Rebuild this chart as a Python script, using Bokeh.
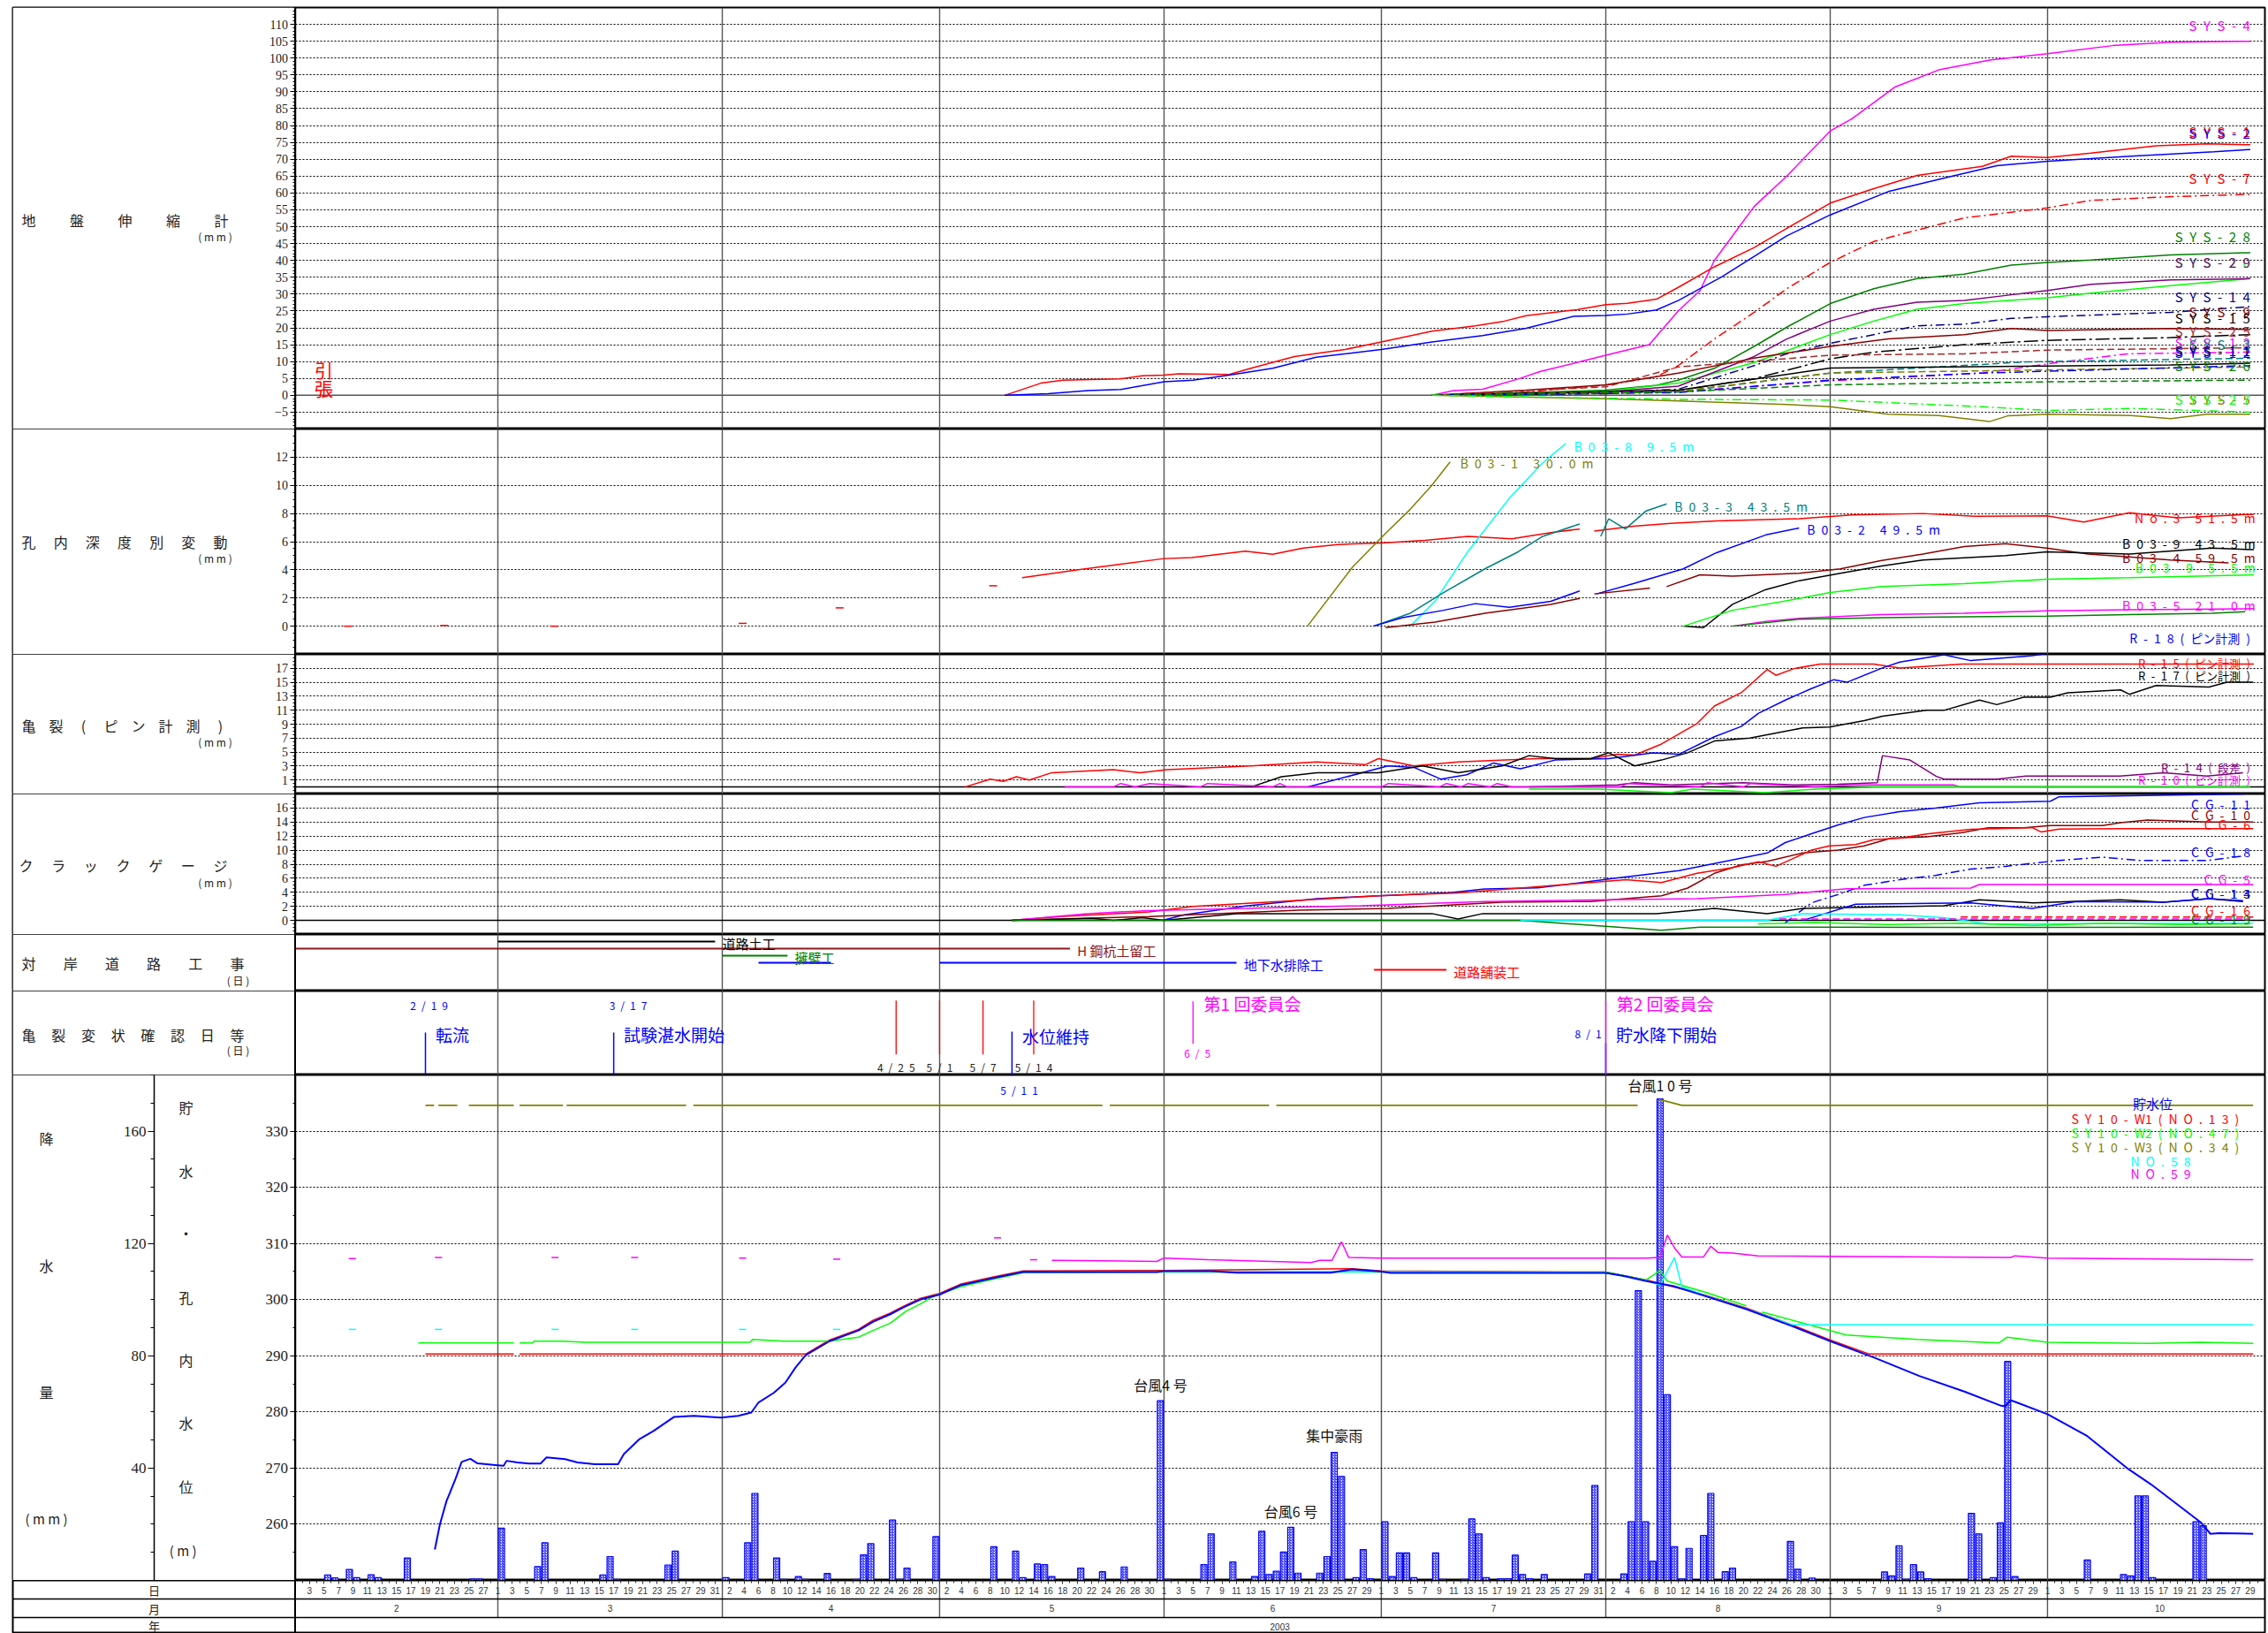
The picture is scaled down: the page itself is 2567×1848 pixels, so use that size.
import pandas as pd
from bokeh.plotting import figure
from bokeh.layouts import column
from bokeh.models import Range1d, LinearAxis, FixedTicker, Grid, Span
from bokeh.core.properties import value
from bokeh.embed import file_html
from bokeh.resources import INLINE

nan = float("nan")
T0 = pd.Timestamp("2003-02-01")


def day(md):
    """'MM-DD' in 2003 -> days elapsed since 2003-02-01."""
    return float((pd.Timestamp("2003-" + md) - T0).days)


# ---------------------------------------------------------------- time axis
MONTH_FIRST = ["02-01", "03-01", "04-01", "05-01", "06-01", "07-01",
               "08-01", "09-01", "10-01", "11-01"]
MONTH_NAME = ["2", "3", "4", "5", "6", "7", "8", "9", "10"]
YEAR_NAME = "2003"

# ------------------------------------------------ 地盤伸縮計 (mm), days since 2/1
sys4_day = [157, 160, 164, 169, 172, 177, 181, 187, 189, 191, 194, 196, 201.5, 206, 212, 215, 221, 227, 234, 242, 251, 259, 270]
sys4_mm = [0, 1.4, 1.8, 4.9, 7.1, 9.7, 11.9, 15, 20, 25, 31, 40, 56, 65, 78.4, 82, 91.5, 96.5, 99.4, 101.3, 103.7, 104.7, 105]
sys1_day = [98, 103, 106, 114, 117, 120, 122, 129, 132, 138, 145, 150, 157, 163, 167, 170, 177, 181, 184, 188, 191, 196, 201.5, 206, 212, 218, 224, 233, 237, 242, 248, 257, 264, 270]
sys1_mm = [0, 3.6, 4.5, 4.9, 5.8, 6, 6.4, 6.2, 8, 11.5, 13.6, 15.8, 19, 20.6, 22, 23.6, 25.4, 26.9, 27.3, 28.5, 32, 38.1, 43.8, 49.5, 57, 61.3, 65.2, 67.9, 70.9, 70.5, 71.8, 74, 74.6, 74.3]
sys2_day = [98, 104, 109.5, 114, 120, 124, 129, 135, 141, 150, 157, 164, 170, 176.5, 181, 184, 188, 191, 197, 201.5, 206, 212, 220, 228.5, 235, 242, 253.5, 265, 270]
sys2_mm = [0, 0.5, 1.4, 1.7, 4, 4.5, 6, 8, 11.3, 13.6, 15.8, 17.7, 19.9, 23.4, 23.7, 24.1, 25.3, 28.1, 35.1, 41.2, 47.3, 53.5, 60.4, 64.8, 68.1, 69.4, 70.9, 72.2, 72.9]
sys7_day = [157, 170, 181, 188, 191, 196, 201.5, 206, 212, 218, 224, 230.5, 237, 242, 248, 259, 270]
sys7_mm = [0, 1, 3, 5.5, 8.8, 16.7, 24.6, 31.6, 39.4, 45.6, 49, 52.6, 54.3, 55.6, 57.8, 58.9, 59.6]
sys28_day = [157, 181, 188, 191, 196, 201.5, 206, 212, 218, 224, 230.5, 237, 242, 248, 259, 270]
sys28_mm = [0, 1.5, 3, 4.5, 8, 14.5, 20.2, 27.2, 31.6, 34.6, 35.9, 38.6, 39.4, 40.1, 41.6, 42.3]
sys20_day = [157, 181, 191, 201.5, 206, 212, 218, 224, 230.5, 242, 248, 259, 270]
sys20_mm = [0, 1.2, 3.6, 9.7, 13.2, 18, 22, 25.5, 27.2, 28.9, 30.3, 32.5, 34.6]
sys29_day = [157, 181, 191, 201.5, 206, 212, 218, 224, 230.5, 237, 242, 248, 259, 270]
sys29_mm = [0, 1, 2.7, 11.5, 16.7, 22, 25.5, 27.6, 28.1, 29.8, 31.1, 32.9, 34.2, 34.6]
sys14_day = [157, 181, 191, 201.5, 206, 212, 218, 224, 230.5, 237, 242, 259, 270]
sys14_mm = [0, 0.8, 1.8, 8.8, 12.3, 15.4, 18, 20.6, 21.1, 22.8, 23.3, 24.6, 26.3]
sys9_day = [157, 170, 181, 191, 201.5, 212, 220, 230.5, 237, 242, 259, 270]
sys9_mm = [0, 1.5, 3.1, 6.6, 11, 14.5, 16.7, 18, 19.8, 19.2, 19.8, 19.5]
sys15_day = [157, 181, 191, 201.5, 212, 218, 230.5, 242, 259, 270]
sys15_mm = [0, 0.5, 1.4, 4.9, 10.8, 12.8, 15, 16.3, 17.1, 18]
sys25_day = [157, 181, 191, 201.5, 212, 230.5, 242, 270]
sys25_mm = [0, 2.5, 8.4, 10.1, 11.9, 12.3, 13.4, 14.1]
sys13_day = [157, 191, 212, 233, 242, 253, 270]
sys13_mm = [0, 1, 4.3, 6.6, 9.3, 12.3, 12.8]
sys3_day = [157, 191, 212, 239, 270]
sys3_mm = [0, 1, 6.6, 9.9, 11]
sys11_day = [157, 191, 212, 259, 270]
sys11_mm = [0, 1.5, 8.1, 9, 9.5]
sys6_day = [157, 191, 212, 270]
sys6_mm = [0, 1.2, 6.6, 8.4]
sys12_day = [157, 191, 212, 233, 270]
sys12_mm = [0, 0.8, 4.5, 6.6, 8.8]
sys26_day = [157, 191, 212, 242, 270]
sys26_mm = [0, 1, 3.1, 4, 4.5]
sys5_day = [157, 181, 191, 206, 212, 220, 227, 234, 236.5, 242, 253.5, 259, 264, 270]
sys5_mm = [0, -1, -1.7, -2.7, -3.4, -5.6, -6, -7.8, -6.1, -5.6, -6, -6.9, -5.6, -5.6]
sys27_day = [157, 191, 212, 233, 242, 253.5, 270]
sys27_mm = [0, -1.2, -1.4, -3.4, -4.5, -3.9, -5]

# ------------------------------------------- 孔内深度別変動 (mm), days since 2/1
no3_day = [100.4, 108.4, 114, 120, 123.8, 131.2, 135, 139.2, 144, 150, 156, 162, 168, 173.4, 177.4, nan, 179.4, 184.8, 190, 196.3, 207.7, 215, 224.8, 232, 241.9, 247, 253.3, 260, 270.5]
no3_mm = [3.45, 4.03, 4.4, 4.8, 4.87, 5.33, 5.1, 5.54, 5.8, 5.9, 6.1, 6.38, 6.2, 6.65, 6.9, nan, 6.75, 7.1, 7.3, 7.47, 7.63, 7.9, 8.0, 7.8, 7.84, 7.4, 8.05, 7.7, 7.95]
no3_mark_day = [7.3, 20.6, 35.8, 61.8, 75.2, 96.4]
no3_mark_mm = [0, 0.05, 0, 0.2, 1.3, 2.87]
b031_day = [139.8, 146, 150.6, 154, 156.9, 159.5]
b031_mm = [0, 4.18, 6.6, 8.3, 9.95, 11.66]
b038_day = [154, 157.4, 162, 167.7, 172.3, 175.5]
b038_mm = [0, 1.76, 5.33, 9.1, 11.6, 12.98]
b033_day = [148.9, 154, 158.6, 164.3, 168.9, 172.3, 177.4, nan, 180.3, 181.4, 183.7, 186.5, 189.4]
b033_mm = [0, 0.92, 2.39, 4.07, 5.28, 6.38, 7.26, nan, 6.38, 7.63, 6.9, 8.16, 8.68]
b032_day = [148.9, 152.9, 158.6, 163, 167.7, 173.4, 177.4, nan, 179.7, 184.8, 191.7, 196.3, 203.1, 207.7]
b032_mm = [0, 0.6, 1.13, 1.6, 1.34, 1.76, 2.5, nan, 2.29, 3.02, 4.07, 5.22, 6.48, 6.97]
b034_day = [150.6, 157.4, 164.3, 173.4, 177.4, nan, 179.4, 187.1, nan, 189.4, 194, 198.5, 207.7, 213.4, 219.1, 224.8, 230.5, 236.2, 241.9, 247.6, 253.3, 259, 267]
b034_mm = [-0.1, 0.29, 0.92, 1.55, 1.97, nan, 2.29, 2.71, nan, 2.81, 3.65, 3.55, 3.76, 4.07, 4.66, 5.12, 5.65, 5.86, 5.54, 5.12, 4.91, 4.7, 4.49]
b039_day = [191.7, 194.5, 198.5, 203.1, 207.7, 213.4, 219.1, 224.8, 236.2, 241.9, 253.3, 264.7, 270.5]
b039_mm = [0, -0.1, 1.55, 2.6, 3.23, 3.76, 4.28, 4.7, 5.01, 5.28, 5.12, 5.54, 5.43]
b039s_day = [191.7, 198.5, 207.7, 212, 219.1, 230.5, 241.9, 253.3, 270.5]
b039s_mm = [0, 1.13, 1.97, 2.39, 2.81, 3.02, 3.33, 3.44, 3.65]
b035_day = [198.5, 203.1, 207.7, 219.1, 230.5, 241.9, 253.3, 270.5]
b035_mm = [0, 0.34, 0.55, 0.82, 0.92, 1.09, 1.17, 1.24]
b035g_day = [198.5, 207.7, 219.1, 230.5, 241.9, 253.3, 264.7, 269.3]
b035g_mm = [0, 0.5, 0.6, 0.67, 0.71, 0.82, 0.92, 1.03]

# ---------------------------------------------- 亀裂(ピン計測) (mm), days since 2/1
r15_day = [92.5, 96, 97.8, 99.6, 101.4, 104.5, 113, 116.7, 120.4, 132, 141.1, 147.8, 149.6, 154.5, 160.6, 171.6, 178.9, 182.6, 185, 188.7, 193.6, 196, 199.7, 203.3, 204.5, 207, 210.6, 218, 221.6, 230.2, 239.9, 244, 270.5]
r15_mm = [0, 1.13, 0.8, 1.47, 1.0, 2.05, 2.47, 2.05, 2.47, 3.02, 3.6, 3.2, 4.07, 3.02, 3.6, 4.07, 4.07, 4.69, 4.57, 6.16, 9.09, 11.6, 13.5, 16.84, 16.0, 16.96, 17.6, 17.6, 17.05, 17.6, 17.6, 17.6, 17.6]
r18_day = [139.9, 150.9, 154.5, 158.2, 161.8, 165.5, 169.2, 174, 181.4, 187.5, 191.1, 196, 199.7, 202.1, 205.8, 209.4, 212.5, 214.3, 219.2, 221.6, 227.7, 231.4, 239.9, 244.8, 250, 255, 260, 265, 270]
r18_mm = [0, 3.02, 2.81, 1.13, 1.76, 3.44, 2.6, 3.86, 4.07, 4.9, 4.69, 7.2, 8.67, 10.56, 12.45, 14.1, 15.37, 15.0, 17.05, 17.89, 18.93, 18.1, 18.8, 19.6, 19.3, 19.9, 19.6, 20.2, 20.0]
r17_day = [132, 136.2, 141.1, 149.6, 155.7, 160.6, 166.7, 170.4, 174, 178.9, 181.4, 185, 188.7, 192.3, 196, 200.9, 208.2, 211.9, 216.7, 219.2, 225.3, 227.7, 232.6, 235, 238.7, 242.4, 244.8, 252.1, 253.3, 257, 264.3, 266.8, 270.4]
r17_mm = [0, 1.47, 2.05, 2.05, 3.02, 2.05, 3.02, 4.49, 4.07, 4.07, 4.9, 3.02, 3.86, 4.9, 6.58, 7.0, 8.46, 8.59, 9.51, 10.14, 10.98, 10.98, 12.45, 11.8, 12.86, 12.86, 13.5, 13.9, 13.28, 14.53, 14.32, 15.0, 15.0]
r14_day = [170.4, 182.6, 185, 190, 200, 207, 213, 218.5, 219.2, 223, 226.6, 227.7, 235, 239, 242.4, 252, 258, 264, 269]
r14_mm = [0, 0.3, 0.6, 0.3, 0.6, 0.3, 0.4, 0.6, 4.49, 3.86, 1.55, 1.13, 1.13, 1.55, 1.55, 1.55, 2.05, 1.55, 2.05]
r10_day = [106.3, 113, 114, 116, 118, 125, 126, 135, 136, 137, 150, 151, 158, 159, 161, 162, 165, 166, 168, 175, 183, 184, 194, 195, 200, 201, 210, 215, 229, 230, 240, 270]
r10_mm = [0, 0, 0.5, 0, 0.5, 0, 0.5, 0, 0.5, 0, 0, 0.5, 0, 0.5, 0, 0.5, 0, 0.5, 0, 0, 0, 0.5, 0, 0.6, 0, 0.5, 0, 0.3, 0.3, 0, 0, 0]
r19_day = [170.4, 180, 190, 193, 203, 210, 219, 270]
r19_mm = [-0.3, -0.3, -0.8, -0.3, -0.8, -0.3, 0, 0]

# ------------------------------------------------ クラックゲージ (mm), days since 2/1
cg11_day = [119.8, 122.8, 131.3, 141.1, 149.6, 159.4, 164.3, 171.6, 182.6, 191.1, 197.2, 203.3, 205.8, 209.4, 213.1, 216.7, 221.6, 226.5, 232.6, 242.4, 243.6, 269.2]
cg11_mm = [0, 0.79, 2.05, 3.1, 3.5, 3.94, 4.49, 4.62, 6.05, 7.09, 8.35, 9.6, 11.08, 12.34, 13.6, 14.65, 15.49, 16.0, 16.75, 16.96, 17.6, 18.0]
cg6_day = [99, 105.7, 117.9, 124, 132.6, 149.6, 160.6, 169.2, 178.9, 183.8, 188.7, 193.6, 198.4, 202.1, 204.5, 209.4, 211.9, 215.5, 218, 221.6, 225.3, 231.4, 239.9, 241.1, 243.6, 252.1, 270.4]
cg6_mm = [0, 0.55, 1.2, 2.0, 2.5, 3.5, 3.9, 4.6, 5.4, 5.8, 5.4, 6.7, 7.5, 8.35, 7.7, 10.0, 10.6, 10.8, 11.5, 11.7, 12.3, 12.97, 13.2, 12.6, 13.0, 13.05, 13.05]
cg10_day = [99, 117.9, 138.7, 150.9, 166.7, 178.9, 188.7, 192.3, 196, 199.7, 203.3, 208.2, 213.1, 216.7, 220.4, 225.3, 230.2, 233.8, 238.7, 242.4, 249.6, 252.1, 255.8, 264.3, 270.4]
cg10_mm = [0, 0.55, 1.45, 1.7, 2.6, 2.7, 3.5, 4.6, 6.7, 7.9, 8.4, 9.6, 10.0, 10.6, 11.7, 11.9, 12.5, 13.2, 13.2, 13.5, 13.5, 13.9, 14.3, 14.0, 14.0]
cg18_day = [205.7, 209.4, 213.1, 216.7, 221.6, 226.5, 231.4, 236.2, 243.6, 249.6, 254.6, 264.3, 269.2]
cg18_mm = [-0.4, 2.5, 3.7, 5.0, 5.8, 6.4, 7.3, 7.7, 8.55, 9.0, 8.55, 8.55, 9.2]
cg5_day = [99, 109.4, 117.9, 131.3, 147.2, 164.3, 193.6, 205.7, 214.3, 231.4, 232.6, 270.4]
cg5_mm = [0, 0.97, 1.4, 1.7, 2.1, 2.7, 3.1, 3.7, 4.5, 4.6, 5.1, 5.1]
cg13_day = [99, 110, 113, 117, 120, 130, 140, 157, 160.6, 164, 174, 188, 196, 203.3, 208.2, 227.7, 232.6, 240, 252, 258, 264.3, 269]
cg13_mm = [0, 0.3, 0, 0.4, 0, 0.97, 0.97, 0.97, 0.2, 0.97, 0.97, 0.97, 1.7, 0.97, 1.7, 2.1, 2.95, 2.5, 2.95, 2.6, 3.1, 2.7]
cg14_day = [208.2, 215.5, 231.4, 239.9, 246, 258, 264.3, 269]
cg14_mm = [0, 2.3, 2.5, 1.7, 2.7, 2.6, 3.1, 2.8]
cg19_day = [99, 169.2, 188.7, 194, 210, 230, 270.4]
cg19_mm = [0, 0, -1.4, -0.97, -0.97, -1.0, -0.97]
cg15_day = [169.2, 203.3, 208.2, 221.6, 227.7, 233.8, 270.4]
cg15_mm = [0, 0, 0.97, 0.8, 0.4, -0.5, -0.4]
cg17_day = [202, 210, 220, 230, 240, 250, 260, 270]
cg17_mm = [-0.5, -0.3, -0.6, -0.4, -0.7, -0.4, -0.6, -0.5]
cg16_day = [230, 270.4]
cg16_mm = [0.5, 0.5]
cg12_day = [205, 270]
cg12_mm = [0.2, 0.2]

# ------------------------------------------------------------- 対岸道路工事
work_name = ["道路土工", "H 鋼杭土留工", "擁壁工", "地下水排除工", "地下水排除工", "道路舗装工"]
work_from = ["03-01", "02-01", "04-01", "04-06", "05-01", "06-30"]
work_to = ["03-31", "05-19", "04-10", "04-16", "06-11", "07-10"]
work_row = [0, 1, 2, 3, 3, 4]
work_color = ["#000000", "#8b1a1a", "#008000", "#0000ff", "#0000ff", "#ff0000"]

# ------------------------------------------------------- 亀裂変状確認日等
op_date = ["02-19", "03-17", "05-11", "08-01"]
op_text = ["転流", "試験湛水開始", "水位維持", "貯水降下開始"]
check_date = ["04-25", "05-01", "05-07", "05-14"]
meet_date = ["06-05", "08-01"]
meet_text = ["第1 回委員会", "第2 回委員会"]

# ---------------------------------------------------- 降水量 (mm/day), day since 2/1
rain_day = [4, 5, 7, 8, 10, 11, 15, 24, 25,
            28, 33, 34, 42, 43, 44, 51, 52,
            59, 62, 63, 66, 67, 69, 70, 73, 77, 78, 79, 82, 83, 84, 88,
            96, 99, 100, 102, 103, 104, 108, 111, 114, 119,
            120, 125, 126, 129, 132, 133, 134, 135, 136, 137, 138, 141, 142, 143, 144, 146, 147, 148,
            150, 151, 152, 153, 154, 157, 158, 161, 162, 163, 164, 166, 167, 168, 169, 170, 172, 178, 179,
            183, 184, 185, 186, 187, 188, 189, 190, 191, 192, 194, 195, 197, 198, 206, 207, 209,
            219, 220, 221, 222, 223, 224, 225, 231, 232, 234, 235, 236, 237,
            247, 252, 253, 254, 255, 256, 262, 263]
rain_mm = [1.9, 0.9, 3.9, 1.0, 2.0, 1.0, 8.0, 0.5, 0.5,
           18.6, 4.9, 13.4, 1.9, 8.5, 0.4, 5.5, 10.4,
           1.0, 13.4, 31.0, 8.0, 0.4, 1.4, 0.4, 2.5, 0.4, 9.1, 13.1, 21.5, 0.4, 4.4, 15.6,
           12.0, 10.4, 1.0, 5.9, 5.6, 1.4, 4.4, 3.1, 4.8, 64.0,
           0.4, 5.6, 16.6, 6.6, 1.4, 17.5, 2.1, 3.3, 10.1, 18.9, 2.6, 2.6, 8.5, 45.6, 37.0, 1.0, 11.0, 0.6,
           20.9, 1.4, 9.8, 9.8, 1.0, 9.8, 0.4, 0.4, 21.9, 16.6, 1.0, 0.6, 0.6, 9.0, 2.1, 0.6, 2.1, 2.3, 33.8,
           2.3, 20.9, 103.2, 20.9, 6.8, 171.5, 66.1, 12.0, 0.5, 11.4, 16.0, 31.0, 3.1, 4.4, 13.9, 4.0, 0.8,
           3.0, 1.6, 12.3, 0.4, 5.6, 3.0, 0.6, 23.9, 16.6, 1.0, 20.5, 78.0, 1.4,
           7.3, 2.1, 1.6, 30.1, 30.1, 1.0, 20.9, 19.5]

# ----------------------------------------------------- 貯水位・孔内水位 (m)
pool_day = [19.3, 20, 20.9, 22.1, 23, 24.2, 25.2, 28, 28.8, 29.2, 30.7, 32.3, 33.9, 34.7, 37.3, 39, 41.4, 44.6, 45.4, 47.5, 49.5, 52.3, 55.1, 58.8, 61.2, 63, 64, 66.1, 67.7, 69.1, 70.5, 73.8, 77.8, 79.8, 82.2, 84.3, 86.3, 89, 92, 96.6, 100.6, 105, 119, 120, 126.5, 130, 143, 146, 150, 151.3, 176.5, 181, 183.5, 186.6, 190.4, 194.8, 200.4, 206.7, 212, 218, 224.3, 230.6, 235.6, 236.2, 236.9, 242, 247.5, 253.2, 256.3, 263.2, 264.5, 265.7, 270.4]
pool_m = [255.5, 260, 264.1, 267.9, 271.1, 271.65, 270.83, 270.5, 270.4, 271.3, 271.0, 270.8, 270.8, 271.9, 271.6, 271.0, 270.7, 270.7, 272.5, 275.1, 276.6, 279.1, 279.3, 279.0, 279.3, 279.9, 281.7, 283.4, 285.2, 287.9, 290.1, 292.6, 294.5, 296.05, 297.4, 298.8, 300.0, 300.9, 302.6, 303.9, 304.95, 304.9, 304.9, 305.06, 305.06, 304.8, 304.8, 305.4, 305.0, 304.76, 304.76, 304.76, 304.2, 303.3, 302.4, 300.6, 298.3, 295.3, 292.6, 289.7, 286.4, 283.6, 281.1, 281.0, 282.1, 279.6, 275.7, 269.8, 267.1, 260.3, 258.3, 258.4, 258.3]
w1_day = [18, 30.2, nan, 31, 70.5, 73.8, 77.8, 79.8, 82.2, 84.3, 86.3, 89, 92, 96.6, 100.6, 120, 146, 150, 181, 186.6, 194.8, 200.4, 206.7, 212, 217.4, 270.4]
w1_m = [290.3, 290.3, nan, 290.3, 290.3, 292.8, 294.7, 296.3, 297.6, 299.0, 300.2, 301.1, 302.8, 304.1, 305.1, 305.2, 305.5, 305.1, 304.9, 303.5, 300.8, 298.5, 295.5, 292.8, 290.3, 290.3]
w2_day = [17, 30.2, nan, 31, 32.8, 33, 37, 40, 62.8, 63.2, 67.5, 73.8, 77.8, 79.8, 82.2, 84.3, 86.3, 88.3, 92, 96.6, 100.6, 120, 150, 181, 186.6, 188.5, 189.5, 194.8, 200.4, nan, 202.6, 208, 214.2, 224, 235.3, 236.4, 242, 256, 263, 270.4]
w2_m = [292.3, 292.3, nan, 292.3, 292.3, 292.6, 292.6, 292.4, 292.4, 292.9, 292.6, 292.6, 293.3, 294.5, 295.8, 297.9, 299.2, 300.7, 302.3, 303.7, 304.8, 304.9, 304.9, 304.9, 303.5, 305.2, 303.3, 301.3, 298.9, nan, 297.8, 295.9, 293.7, 292.9, 292.3, 293.3, 292.4, 292.2, 292.4, 292.2]
w3_day = [18, 19.2, nan, 19.8, 22.4, nan, 24, 30.2, nan, 31, 37, nan, 37.5, 54, nan, 55, 111.5, nan, 112.5, 134.5, nan, 135.5, 185.4, nan, 188.5, 191.5, 270.4]
w3_m = [334.6, 334.6, nan, 334.6, 334.6, nan, 334.6, 334.6, nan, 334.6, 334.6, nan, 334.6, 334.6, nan, 334.6, 334.6, nan, 334.6, 334.6, nan, 334.6, 334.6, nan, 335.6, 334.6, 334.6]
no58_day = [100.6, 120, 150, 181, 186.6, 188.5, 190.5, 191.5, 194.8, 200.4, 206.7, 208, 270.4]
no58_m = [304.9, 305.0, 305.0, 304.8, 303.4, 302.6, 307.5, 302.3, 300.7, 298.4, 295.5, 295.5, 295.5]
no58_mark_day = [7.9, 19.8, 35.9, 46.9, 61.8, 74.8]
no58_mark_m = [294.7, 294.7, 294.7, 294.7, 294.7, 294.7]
no59_day = [104.5, 119, 120, 126, 140.3, 141.5, 143.2, 144.5, 145.5, 150, 181, 186.6, 188.5, 189.5, 190.5, 191.5, 194.5, 195.5, 196.5, 198.5, 202, 212, 236.9, 237.5, 242, 270.4]
no59_m = [307.0, 306.8, 307.4, 307.1, 306.6, 307.0, 307.0, 310.3, 307.5, 307.4, 307.4, 307.4, 307.5, 311.5, 309.2, 307.6, 307.6, 309.5, 308.4, 308.3, 307.8, 307.7, 307.5, 307.8, 307.4, 307.1]
no59_mark_day = [7.9, 19.8, 35.9, 46.9, 61.8, 74.8, 97, 102]
no59_mark_m = [307.3, 307.5, 307.5, 307.5, 307.4, 307.2, 311.0, 307.1]

typhoon_text = ["台風4 号", "台風6 号", "集中豪雨", "台風1 0 号"]
typhoon_date = ["05-31", "06-18", "06-24", "08-08"]

legend_text = ["S Y 1 0 - W1 ( N O . 1 3 )", "S Y 1 0 - W2 ( N O . 4 7 )",
               "S Y 1 0 - W3 ( N O . 3 4 )", "N O . 5 8", "N O . 5 9"]
legend_color = ["#ff0000", "#00ff00", "#808000", "#00ffff", "#ff00ff"]

# =============================================================== drawing
W = 2567
JP = "Noto Sans CJK JP"
NARROW = "Liberation Sans Narrow"
PX0, PXD = 333.5, 8.196              # canvas px of 2/1 and px per day
X_START = -(PX0 - 14) / PXD
X_END = X_START + 2549 / PXD
XR = Range1d(X_START, X_END)
MONTH_DAYS = [day(m) for m in MONTH_FIRST]
DASH = {"solid": "solid", "dashdot": "10 4 2 4", "dash": "8 4", "longdashdot": "16 4 3 4"}
EN = "\u2002"


def spaced(s):
    return EN.join(s)


def widen(s):
    return s.replace(" ", EN)


def colx(px):
    """x (days) of a position inside the left caption column."""
    return (px - PX0) / PXD


def make_panel(top, h, y0, y1, border_top=0):
    p = figure(width=W, height=h + border_top, x_range=XR, y_range=Range1d(y0, y1),
               x_axis_type=None, y_axis_type=None, toolbar_location=None, title=None,
               output_backend="svg", min_border_left=14, min_border_right=4,
               min_border_top=border_top, min_border_bottom=0)
    p.outline_line_color = "black"
    p.outline_line_width = 2
    p.background_fill_color = "white"
    p.border_fill_color = "white"
    p.add_layout(Grid(dimension=0, ticker=FixedTicker(ticks=MONTH_DAYS[1:-1]),
                      grid_line_color="#555555", grid_line_width=1.4))
    p.quad(left=X_START, right=-0.1, bottom=y0, top=y1, fill_color="white", line_color=None)
    p.add_layout(Span(location=0, dimension="height", line_color="black", line_width=2))
    p._geom = (top, h, y0, y1)
    return p


def ydat(p, py):
    top, h, y0, y1 = p._geom
    return y1 - (py - top) / h * (y1 - y0)


def add_yaxis(p, majors, minors, loc=0.0, range_name="default", size="14px", grid=True,
              tick_out=6, minor_out=3):
    ax = LinearAxis(fixed_location=loc, y_range_name=range_name,
                    ticker=FixedTicker(ticks=majors, minor_ticks=minors))
    ax.axis_line_color = "black"
    ax.axis_line_width = 1.5
    ax.major_tick_line_color = "black"
    ax.major_tick_out = tick_out
    ax.major_tick_in = 0
    ax.minor_tick_line_color = "black"
    ax.minor_tick_out = minor_out
    ax.minor_tick_in = 0
    ax.major_label_text_font = NARROW
    ax.major_label_text_font_size = size
    ax.major_label_text_color = "#222222"
    ax.major_label_standoff = 2
    p.add_layout(ax, "left")
    if grid:
        p.add_layout(Grid(dimension=1, ticker=FixedTicker(ticks=majors), y_range_name=range_name,
                          grid_line_color="black", grid_line_dash="2 2", grid_line_width=1))


def txt(p, xs, ys, texts, color="#222222", size="16px", align="center", baseline="middle", font=JP):
    p.text(x=xs, y=ys, text=texts, text_color=color, text_font=value(font),
           text_font_size=size, text_align=align, text_baseline=baseline)


def caption(p, chars, px_a, px_b, py, unit, unit_px, unit_py):
    n = len(chars)
    xs = [colx(px_a + (px_b - px_a) * i / (n - 1)) for i in range(n)]
    txt(p, xs, [ydat(p, py)] * n, list(chars))
    txt(p, [colx(unit_px)], [ydat(p, unit_py)], [unit], size="12px")


def series(p, days, vals, color, dash="solid", width=1.5, y_range_name="default"):
    p.line(days, vals, line_color=color, line_width=width, line_dash=DASH[dash],
           y_range_name=y_range_name)


LABEL_X = 270.0   # right end of the series captions

# ------------------------------------------------------------ panel 1
p1 = make_panel(8, 477, -10, 115, border_top=8)
add_yaxis(p1, list(range(-5, 111, 5)), list(range(-10, 116)))
p1.segment(x0=[0], x1=[X_END], y0=[0], y1=[0], line_color="#555555", line_width=1.5)
caption(p1, "地盤伸縮計", 32, 250, 248, "( m m )", 243, 267)
txt(p1, [colx(366), colx(366)], [ydat(p1, 417), ydat(p1, 438)], ["引", "張"], color="#ff0000", size="21px")

p1_series = [
    ("SYS-4", "#ff00ff", "solid", sys4_day, sys4_mm, 107),
    ("SYS-1", "#ff0000", "solid", sys1_day, sys1_mm, 75.6),
    ("SYS-2", "#0000ff", "solid", sys2_day, sys2_mm, 75.0),
    ("SYS-7", "#ff0000", "dashdot", sys7_day, sys7_mm, 61.7),
    ("SYS-28", "#008000", "solid", sys28_day, sys28_mm, 44.3),
    ("SYS-20", "#00ff00", "solid", sys20_day, sys20_mm, 36.7),
    ("SYS-29", "#800080", "solid", sys29_day, sys29_mm, 36.7),
    ("SYS-14", "#000080", "dashdot", sys14_day, sys14_mm, 26.5),
    ("SYS-9", "#8b0000", "solid", sys9_day, sys9_mm, 22.0),
    ("SYS-15", "#000000", "longdashdot", sys15_day, sys15_mm, 20.2),
    ("SYS-25", "#a52a2a", "dash", sys25_day, sys25_mm, 16.3),
    ("SYS-13", "#ff00ff", "dashdot", sys13_day, sys13_mm, 12.8),
    ("SYS-3", "#008080", "dash", sys3_day, sys3_mm, 12.4),
    ("SYS-11", "#000000", "solid", sys11_day, sys11_mm, 10.6),
    (None, "#808000", "dash", sys6_day, sys6_mm, None),
    ("SYS-12", "#0000ff", "dashdot", sys12_day, sys12_mm, 10.0),
    ("SYS-26", "#008000", "dash", sys26_day, sys26_mm, 6.2),
    ("SYS-5", "#808000", "solid", sys5_day, sys5_mm, -3.8),
    ("SYS-27", "#00ff00", "dashdot", sys27_day, sys27_mm, -3.8),
]
for name, col, dash, d, v, ly in p1_series:
    series(p1, d, v, col, dash)
for name, col, dash, d, v, ly in p1_series:
    if name:
        txt(p1, [LABEL_X], [ly], [spaced(name)], color=col, size="15px", align="right", baseline="bottom")

# ------------------------------------------------------------ panel 2
p2 = make_panel(485, 255, -2, 14)
add_yaxis(p2, list(range(0, 13, 2)), [i * 0.5 for i in range(-4, 29)])
caption(p2, "孔内深度別変動", 32, 249, 612, "( m m )", 243, 631)
p2_series = [
    ("No.3 51.5m", "#ff0000", no3_day, no3_mm, (LABEL_X + 0.7, 7.7, "right")),
    ("B03-1 30.0m", "#808000", b031_day, b031_mm, (160.9, 11.6, "left")),
    ("B03-8 9.5m", "#00ffff", b038_day, b038_mm, (176.6, 12.8, "left")),
    ("B03-3 43.5m", "#008080", b033_day, b033_mm, (190.5, 8.5, "left")),
    ("B03-2 49.5m", "#0000ff", b032_day, b032_mm, (208.8, 6.9, "left")),
    ("B03-4 59.5m", "#8b0000", b034_day, b034_mm, (LABEL_X + 0.7, 4.85, "right")),
    ("B03-9 43.5m", "#000000", b039_day, b039_mm, (LABEL_X + 0.7, 5.85, "right")),
    ("B03-9 5.5m", "#00ff00", b039s_day, b039s_mm, (LABEL_X + 0.7, 4.2, "right")),
    ("B03-5 21.0m", "#ff00ff", b035_day, b035_mm, (LABEL_X + 0.7, 1.5, "right")),
    (None, "#008000", b035g_day, b035g_mm, None),
]
for name, col, d, v, lab in p2_series:
    series(p2, d, v, col)
p2.scatter(no3_mark_day, no3_mark_mm, marker="dash", size=9, line_color="#ff0000", line_width=1.5)
for name, col, d, v, lab in p2_series:
    if name:
        txt(p2, [lab[0]], [lab[1]], [spaced(name)], color=col, size="14px", align=lab[2])
txt(p2, [LABEL_X], [-0.86], [widen("R - 1 8 ( ピン計測 )")], color="#0000ff", size="14px", align="right")

# ------------------------------------------------------------ panel 3
p3 = make_panel(740, 158, -1, 19)
add_yaxis(p3, list(range(1, 18, 2)), [i * 0.5 for i in range(-2, 39)])
p3.segment(x0=[0], x1=[X_END], y0=[0], y1=[0], line_color="black", line_width=1.5)
caption(p3, "亀裂(ピン計測)", 32, 249, 820, "( m m )", 243, 839)
p3_series = [
    ("R - 1 5 ( ピン計測 )", "#ff0000", r15_day, r15_mm, 17.7),
    ("R - 1 8", "#0000ff", r18_day, r18_mm, None),
    ("R - 1 7 ( ピン計測 )", "#000000", r17_day, r17_mm, 15.9),
    ("R - 1 4 ( 段差 )", "#800080", r14_day, r14_mm, 2.8),
    ("R - 1 0 ( ピン計測 )", "#ff00ff", r10_day, r10_mm, 1.0),
    (None, "#00ff00", r19_day, r19_mm, None),
]
for name, col, d, v, ly in p3_series:
    series(p3, d, v, col)
for name, col, d, v, ly in p3_series:
    if name and ly is not None:
        txt(p3, [LABEL_X], [ly], [widen(name)], color=col, size="13px", align="right")

# ------------------------------------------------------------ panel 4
p4 = make_panel(898, 159, -2, 18)
add_yaxis(p4, list(range(0, 17, 2)), [i * 0.5 for i in range(-4, 37)])
p4.segment(x0=[0], x1=[X_END], y0=[0], y1=[0], line_color="black", line_width=1.5)
caption(p4, "クラックゲージ", 29, 249, 978, "( m m )", 243, 998)
p4_series = [
    ("CG-11", "#0000ff", "solid", cg11_day, cg11_mm, 16.6),
    ("CG-10", "#8b0000", "solid", cg10_day, cg10_mm, 15.0),
    ("CG-6", "#ff0000", "solid", cg6_day, cg6_mm, 13.6),
    ("CG-18", "#0000ff", "dashdot", cg18_day, cg18_mm, 9.8),
    ("CG-5", "#ff00ff", "solid", cg5_day, cg5_mm, 5.8),
    ("CG-13", "#000000", "solid", cg13_day, cg13_mm, 3.85),
    ("CG-14", "#0000ff", "solid", cg14_day, cg14_mm, 3.85),
    ("CG-19", "#008000", "solid", cg19_day, cg19_mm, 0.2),
    (None, "#00ffff", "solid", cg15_day, cg15_mm, None),
    (None, "#00ff00", "solid", cg17_day, cg17_mm, None),
    ("CG-16", "#ff0000", "dash", cg16_day, cg16_mm, 1.4),
    (None, "#ff00ff", "dash", cg12_day, cg12_mm, None),
]
for name, col, dash, d, v, ly in p4_series:
    series(p4, d, v, col, dash)
for name, col, dash, d, v, ly in p4_series:
    if name:
        txt(p4, [LABEL_X], [ly], [spaced(name)], color=col, size="14px", align="right")

# ------------------------------------------------------------ panel 5
p5 = make_panel(1057, 64, -7, 1)
caption(p5, "対岸道路工事", 32, 268, 1089, "( 日 )", 269, 1109)
wx0 = [day(s) for s in work_from]
wx1 = [day(s) for s in work_to]
wy = [-r for r in work_row]
p5.segment(x0=wx0, x1=wx1, y0=wy, y1=wy, line_color=work_color, line_width=2)
last = {}
for i, name in enumerate(work_name):
    last[name] = i
for name, i in last.items():
    txt(p5, [wx1[i] + 1.0], [wy[i] - 0.25], [name], color=work_color[i], size="15px", align="left")

# ------------------------------------------------------------ panel 6
p6 = make_panel(1121, 95, 0, 95)
caption(p6, "亀裂変状確認日等", 32, 268, 1170, "( 日 )", 269, 1188)


def md_label(s):
    return f"{int(s[:2])} / {' '.join(str(int(s[3:])))}".replace(" ", EN)


op_x = [day(s) for s in op_date]
op_top = [48, 48, 49, 36]
p6.segment(x0=op_x, x1=op_x, y0=[0] * 4, y1=op_top, line_color="#0000ff", line_width=1.5)
txt(p6, [x + 1.4 for x in op_x], [46, 46, 44, 46], op_text, color="#0000ff", size="19px", align="left")
op_lab = [md_label(s) for s in op_date]
txt(p6, [op_x[0] + 0.5, op_x[1] + 2.0], [79, 79], op_lab[:2], color="#0000ff", size="12px")
txt(p6, [op_x[3] - 0.6], [47], [op_lab[3]], color="#0000ff", size="12px", align="right")
ck_x = [day(s) for s in check_date]
p6.segment(x0=ck_x, x1=ck_x, y0=[23.3] * 4, y1=[84.3] * 4, line_color="#ff0000", line_width=1.3)
txt(p6, ck_x, [9.3] * 4, [md_label(s) for s in check_date], color="#222222", size="12px")
mt_x = [day(s) for s in meet_date]
p6.segment(x0=mt_x, x1=mt_x, y0=[35.3, 0], y1=[83.3, 84], line_color="#ff00ff", line_width=1.3)
txt(p6, [x + 1.5 for x in mt_x], [81, 81], meet_text, color="#ff00ff", size="19px", align="left")
txt(p6, [mt_x[0] + 0.6], [25], [md_label(meet_date[0])], color="#ff00ff", size="12px")

# ------------------------------------------------------------ panel 7
p7 = make_panel(1216, 572, 250, 340)
p7.extra_y_ranges = {"rain": Range1d(0, 180)}
add_yaxis(p7, list(range(260, 331, 10)), list(range(250, 341, 5)), size="17px")
add_yaxis(p7, [40, 80, 120, 160], list(range(0, 181, 10)), loc=colx(174), range_name="rain",
          size="17px", grid=False, tick_out=7, minor_out=4)
txt(p7, [colx(52)] * 3, [ydat(p7, py) for py in (1287, 1431, 1574)], list("降水量"))
txt(p7, [colx(52)], [ydat(p7, 1718)], ["( m m )"], size="15px")
txt(p7, [colx(210)] * 7, [ydat(p7, py) for py in (1252, 1324, 1394, 1467, 1538, 1609, 1681)],
    list("貯水・孔内水位"))
txt(p7, [colx(210)], [ydat(p7, 1754)], ["(  m  )"], size="15px")

p7.vbar(x=[d + 0.5 for d in rain_day], width=0.85, top=rain_mm, bottom=0, y_range_name="rain",
        fill_color="white", line_color="#0000ff", line_width=1.2,
        hatch_pattern="right_diagonal_line", hatch_color="#0000ff", hatch_scale=3, hatch_weight=1)
series(p7, w3_day, w3_m, "#808000", width=1.8)
series(p7, w1_day, w1_m, "#ff0000", width=1.5)
series(p7, w2_day, w2_m, "#00ff00", width=1.5)
series(p7, no58_day, no58_m, "#00ffff", width=1.5)
series(p7, no59_day, no59_m, "#ff00ff", width=1.5)
p7.scatter(no58_mark_day, no58_mark_m, marker="dash", size=8, line_color="#00ffff", line_width=1.5)
p7.scatter(no59_mark_day, no59_mark_m, marker="dash", size=8, line_color="#ff00ff", line_width=1.5)
series(p7, pool_day, pool_m, "#0000ff", width=2)

ty_x = [day(s) + 0.5 for s in typhoon_date]
ty_y = [ydat(p7, py) for py in (1566, 1709, 1623, 1227)]
txt(p7, ty_x, ty_y, typhoon_text, color="#111111", size="16px")
txt(p7, [day("05-11") + 1.0], [ydat(p7, 1233)], [md_label("05-11")], color="#0000ff", size="12px")
txt(p7, [colx(2436)], [ydat(p7, 1248)], ["貯水位"], color="#0000ff", size="15px")
txt(p7, [colx(2344)] * 3, [ydat(p7, py) for py in (1265, 1281, 1297)],
    [widen(t) for t in legend_text[:3]], color=legend_color[:3], size="14px", align="left")
txt(p7, [colx(2411)] * 2, [ydat(p7, py) for py in (1313, 1327)],
    [widen(t) for t in legend_text[3:]], color=legend_color[3:], size="14px", align="left")

# ------------------------------------------------------------ date rows
p8 = figure(width=W, height=60, x_range=XR, y_range=Range1d(0, 3), x_axis_type=None, y_axis_type=None,
            toolbar_location=None, title=None, output_backend="svg",
            min_border_left=14, min_border_right=4, min_border_top=0, min_border_bottom=0)
p8.outline_line_color = "black"
p8.outline_line_width = 2
p8.add_layout(Span(location=0, dimension="height", line_color="black", line_width=2))
p8.add_layout(Span(location=1.95, dimension="width", line_color="black", line_width=1.5))
p8.add_layout(Span(location=0.9, dimension="width", line_color="black", line_width=1.5))
p8.segment(x0=MONTH_DAYS[1:-1], x1=MONTH_DAYS[1:-1], y0=0.9, y1=3, line_color="#555555", line_width=1.4)

all_days = list(range(0, 273))
label_days = list(range(2, 272, 2))
day_ax = LinearAxis(fixed_location=3, ticker=FixedTicker(ticks=label_days, minor_ticks=all_days),
                    major_label_overrides={d: str((T0 + pd.Timedelta(days=d)).day) for d in label_days})
month_mid = [(a + b) / 2 for a, b in zip(MONTH_DAYS[:-1], MONTH_DAYS[1:])]
month_ax = LinearAxis(fixed_location=1.95, ticker=FixedTicker(ticks=month_mid, minor_ticks=[]),
                      major_label_overrides=dict(zip(month_mid, MONTH_NAME)))
year_ax = LinearAxis(fixed_location=0.9, ticker=FixedTicker(ticks=[(MONTH_DAYS[0] + 272) / 2], minor_ticks=[]),
                     major_label_overrides={(MONTH_DAYS[0] + 272) / 2: YEAR_NAME})
for ax, tick in ((day_ax, 4), (month_ax, 0), (year_ax, 0)):
    ax.axis_line_color = None
    ax.major_tick_out = tick
    ax.major_tick_in = 0
    ax.minor_tick_out = 3
    ax.minor_tick_in = 0
    ax.major_tick_line_color = "#333333"
    ax.minor_tick_line_color = "#333333"
    ax.major_label_text_font = "Liberation Sans"
    ax.major_label_text_font_size = "10px"
    ax.major_label_text_color = "#333333"
    ax.major_label_standoff = 3 if tick else 6
    p8.add_layout(ax, "below")
txt(p8, [colx(174)] * 3, [2.47, 1.42, 0.45], ["日", "月", "年"], size="13px")

page = column(p1, p2, p3, p4, p5, p6, p7, p8, spacing=0)
with open("out.html", "w") as f:
    f.write(file_html(page, INLINE, title="地盤変位・貯水位 観測記録 2003"))
